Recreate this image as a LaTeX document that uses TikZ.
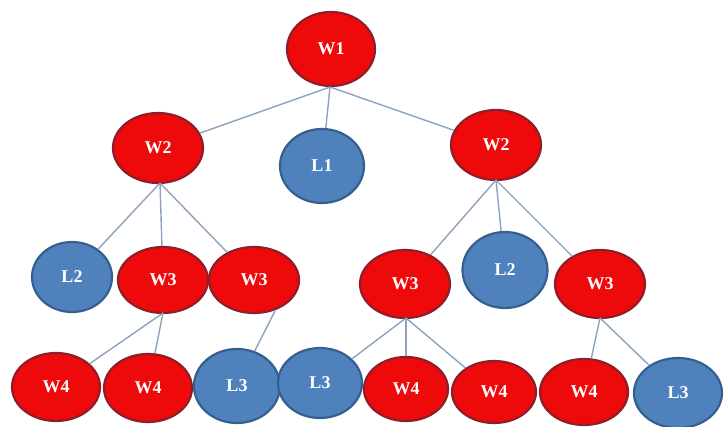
\documentclass[tikz,border=0pt]{standalone}
\usepackage{fontspec}
\setmainfont{Liberation Serif}
\usetikzlibrary{shapes.geometric}
\definecolor{wred}{HTML}{EE0A0A}
\definecolor{wredb}{HTML}{8E1E2A}
\definecolor{lblue}{HTML}{4F81BD}
\definecolor{lblueb}{HTML}{35608E}
\definecolor{edgec}{HTML}{8CA2BE}
\begin{document}
\begin{tikzpicture}[x=1pt,y=-1pt,
  wnode/.style={ellipse,draw=wredb,fill=wred,line width=2.2pt,minimum width=90pt,minimum height=70pt,inner sep=0pt,text=white,font=\fontsize{18}{18}\selectfont\bfseries},
  lnode/.style={ellipse,draw=lblueb,fill=lblue,line width=2.2pt,minimum width=84pt,minimum height=74pt,inner sep=0pt,text=white,font=\fontsize{18}{18}\selectfont\bfseries},
  link/.style={draw=edgec,line width=1.4pt}]
\useasboundingbox (0,0) rectangle (724,427);
% level 1
\node[wnode,minimum width=88pt,minimum height=74pt] (w1) at (331,49) {W1};
% level 2
\node[wnode] (w2a) at (158,148) {W2};
\node[lnode] (l1) at (322,166) {L1};
\node[wnode] (w2b) at (496,145) {W2};
% level 3
\node[lnode,minimum width=80pt,minimum height=70pt] (l2a) at (72,277) {L2};
\node[wnode,minimum height=66pt] (w3a) at (163,280) {W3};
\node[wnode,minimum height=66pt] (w3b) at (254,280) {W3};
\node[wnode,minimum height=68pt] (w3c) at (405,284) {W3};
\node[lnode,minimum width=85pt,minimum height=76pt] (l2b) at (505,270) {L2};
\node[wnode,minimum height=68pt] (w3d) at (600,284) {W3};
% level 4
\node[wnode,minimum width=88pt,minimum height=68pt] (w4a) at (56,387) {W4};
\node[wnode,minimum width=88pt,minimum height=68pt] (w4b) at (148,388) {W4};
\node[lnode,minimum width=86pt,minimum height=74pt] (l3a) at (237,386) {L3};
\node[lnode,minimum width=84pt,minimum height=70pt] (l3b) at (320,383) {L3};
\node[wnode,minimum width=84pt,minimum height=64pt] (w4c) at (406,389) {W4};
\node[wnode,minimum width=84pt,minimum height=62pt] (w4d) at (494,392) {W4};
\node[wnode,minimum width=88pt,minimum height=66pt] (w4e) at (584,392) {W4};
\node[lnode,minimum width=88pt,minimum height=70pt] (l3c) at (678,393) {L3};
% connectors
\coordinate (p1) at (330,87);
\coordinate (p2) at (160,183);
\coordinate (p3) at (496,180);
\coordinate (p4) at (163,313);
\coordinate (p5) at (275,311);
\coordinate (p6) at (406,318);
\coordinate (p7) at (600,318);
\draw[link] (p1) -- (w2a);
\draw[link] (p1) -- (l1);
\draw[link] (p1) -- (w2b);
\draw[link] (p2) -- (l2a);
\draw[link] (p2) -- (w3a);
\draw[link] (p2) -- (w3b);
\draw[link] (p3) -- (w3c);
\draw[link] (p3) -- (l2b);
\draw[link] (p3) -- (w3d);
\draw[link] (p4) -- (w4a);
\draw[link] (p4) -- (w4b);
\draw[link] (p5) -- (l3a);
\draw[link] (p6) -- (l3b);
\draw[link] (p6) -- (w4c);
\draw[link] (p6) -- (w4d);
\draw[link] (p7) -- (w4e);
\draw[link] (p7) -- (l3c);
\end{tikzpicture}
\end{document}
